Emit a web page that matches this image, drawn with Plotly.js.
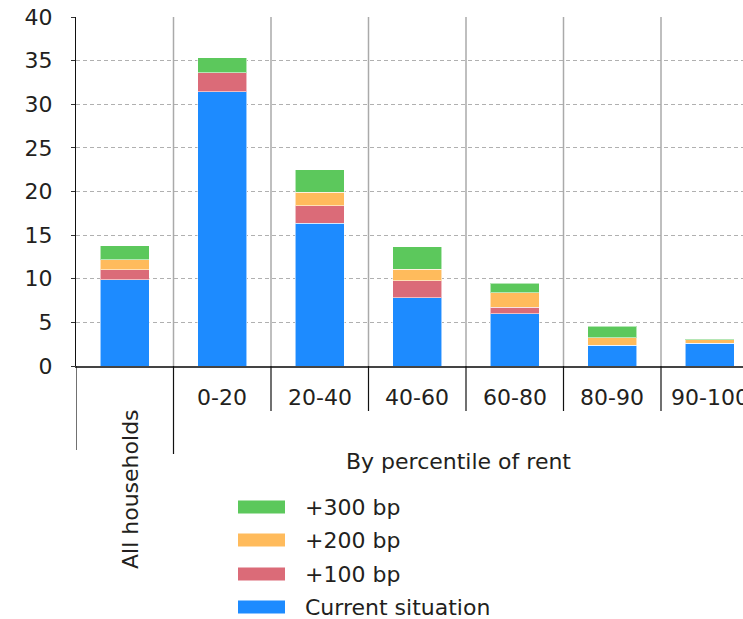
<!DOCTYPE html>
<html>
<head>
<meta charset="utf-8">
<script src="https://cdn.plot.ly/plotly-3.0.1.min.js"></script>
<style>html,body{margin:0;padding:0;background:#fff;}</style>
</head>
<body>
<div id="chart" style="width:743px;height:619px;"></div>
<script>
// ---- data ----
const categories = ["All households", "0-20", "20-40", "40-60", "60-80", "80-90", "90-100"];
const seriesNames = ["Current situation", "+100 bp", "+200 bp", "+300 bp"];
const currentSituation = [9.9, 31.45, 16.35, 7.85, 5.97, 2.38, 2.6];
const plus100 = [1.15, 2.15, 2.0, 1.9, 0.77, 0, 0];
const plus200 = [1.15, 0, 1.55, 1.35, 1.65, 0.85, 0.42];
const plus300 = [1.6, 1.75, 2.6, 2.55, 1.08, 1.33, 0.12];
const groupTitle = "By percentile of rent";
const yTicks = [0, 5, 10, 15, 20, 25, 30, 35, 40];

// ---- style ----
const colors = ["#1d8bff", "#db6b78", "#ffbb5c", "#5cc85c"];
const FONT = "DejaVu Sans";
const FS = 22;
const TXT = "#231f20";
const W = 743, H = 619, L = 76, R = 0, T = 17, B = 253;
const PW = W - L - R, PH = H - T - B;
const px = v => (v - L) / PW;       // pixel x -> paper
const py = v => (H - B - v) / PH;   // pixel y -> paper

const seriesValues = [currentSituation, plus100, plus200, plus300];
const traces = seriesValues.map((vals, i) => ({
  type: "bar",
  name: seriesNames[i],
  x: categories,
  y: vals,
  width: 0.5,
  marker: { color: colors[i], line: { color: "rgba(255,255,255,0.55)", width: 1 } },
  showlegend: false,
  hoverinfo: "skip"
}));

const shapes = [];
const annotations = [];
// separators between categories
for (let k = 0; k < categories.length; k++) {
  const xs = k - 0.5;
  if (k > 0) {
    shapes.push({ type: "line", xref: "x", yref: "paper", x0: xs, x1: xs, y0: 0, y1: 1,
      line: { color: "#aaaaaa", width: 1.5 } });
  }
  const bottom = k === 0 ? py(450) : (k === 1 ? py(454) : py(411));
  shapes.push({ type: "line", xref: "x", yref: "paper", x0: xs, x1: xs, y0: 0, y1: bottom,
    line: { color: "#111111", width: 1.2 } });
}
// category labels
categories.forEach((c, k) => {
  if (k === 0) {
    annotations.push({ text: c, xref: "paper", yref: "paper", x: px(130), y: py(489),
      textangle: -90, showarrow: false, xanchor: "center", yanchor: "middle",
      font: { family: FONT, size: FS, color: TXT } });
  } else {
    annotations.push({ text: c, xref: "x", yref: "paper", x: c, y: py(397),
      showarrow: false, xanchor: "center", yanchor: "middle",
      font: { family: FONT, size: FS, color: TXT } });
  }
});
annotations.push({ text: groupTitle, xref: "paper", yref: "paper", x: px(458), y: py(462),
  showarrow: false, xanchor: "center", yanchor: "middle",
  font: { family: FONT, size: FS, color: TXT } });

// legend (top: +300 bp ... bottom: Current situation)
const legendRows = [507, 540, 574, 607];
[3, 2, 1, 0].forEach((si, r) => {
  const cy = legendRows[r];
  shapes.push({ type: "rect", xref: "paper", yref: "paper",
    x0: px(238), x1: px(285), y0: py(cy + 6.5), y1: py(cy - 6.5),
    fillcolor: colors[si], line: { width: 0 } });
  annotations.push({ text: seriesNames[si], xref: "paper", yref: "paper", x: px(303), y: py(cy),
    showarrow: false, xanchor: "left", yanchor: "middle",
    font: { family: FONT, size: FS, color: TXT } });
});

const layout = {
  width: W, height: H,
  margin: { l: L, r: R, t: T, b: B, pad: 0 },
  paper_bgcolor: "#ffffff", plot_bgcolor: "#ffffff",
  barmode: "stack",
  showlegend: false,
  xaxis: {
    type: "category",
    categoryorder: "array", categoryarray: categories,
    range: [-0.5, -0.5 + PW / 97.5],
    showticklabels: false, ticks: "", showgrid: false, zeroline: false,
    showline: true, linecolor: "#444444", linewidth: 2, fixedrange: true
  },
  yaxis: {
    range: [0, 40],
    tickvals: yTicks,
    ticktext: yTicks.map(String),
    ticks: "outside", ticklen: 4, tickcolor: "#333333", tickwidth: 1,
    ticklabelstandoff: 14,
    tickfont: { family: FONT, size: FS, color: TXT },
    showgrid: true, gridcolor: "#b0b0b0", gridwidth: 1, griddash: "4px,3px",
    zeroline: false,
    showline: true, linecolor: "#111111", linewidth: 1, fixedrange: true
  },
  shapes: shapes,
  annotations: annotations
};

Plotly.newPlot("chart", traces, layout, { displayModeBar: false, staticPlot: true });
</script>
</body>
</html>
